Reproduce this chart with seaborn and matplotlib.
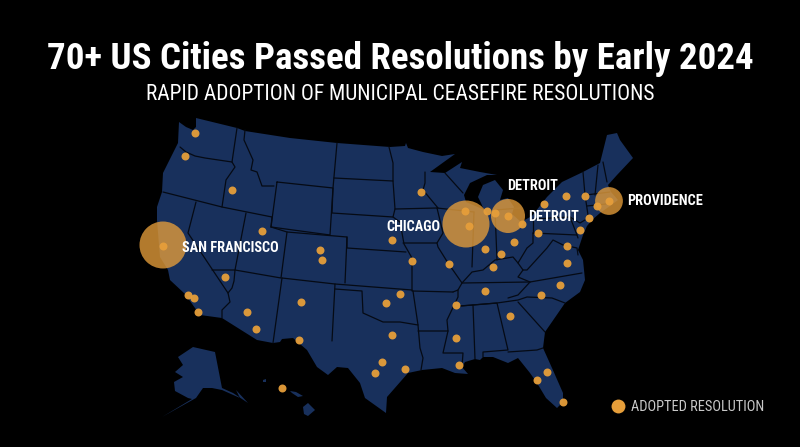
import matplotlib
matplotlib.use("Agg")
import matplotlib.pyplot as plt
import matplotlib.font_manager as fm
from matplotlib.lines import Line2D
import pandas as pd
import seaborn as sns

# map geometry (x right, y down)
us_outline = [
    (179, 122), (186, 127), (193, 130), (196, 127), (196, 118), (237, 128), (245, 131), (290, 138), (337, 143),
    (390, 147), (405, 146), (406, 143), (408, 148), (423, 152), (442, 156), (455, 154), (430, 172), (445, 173),
    (462, 162), (460, 168), (480, 172), (497, 175), (487, 175), (470, 183), (464, 195), (466, 202), (473, 205),
    (480, 208), (484, 210), (481, 203), (478, 197), (483, 185), (495, 180), (503, 190), (500, 200), (508, 198),
    (514, 207), (512, 214), (521, 222), (532, 216), (547, 197), (562, 182), (583, 172), (600, 163), (607, 135),
    (617, 133), (620, 140), (633, 158), (617, 175), (608, 185), (611, 192), (618, 200), (610, 206), (600, 213),
    (592, 220), (587, 226), (583, 235), (578, 250), (583, 260), (585, 280), (580, 292), (565, 303), (545, 332),
    (543, 348), (552, 368), (563, 393), (563, 402), (557, 408), (546, 398), (537, 383), (530, 373), (518, 358),
    (508, 363), (493, 357), (483, 357), (480, 360), (475, 359), (465, 362), (462, 367), (468, 374), (455, 373),
    (442, 368), (422, 370), (408, 373), (387, 397), (386, 413), (365, 398), (360, 383), (348, 368), (337, 367),
    (328, 375), (317, 367), (307, 350), (293, 338), (282, 339), (280, 342), (273, 343), (257, 340), (222, 318),
    (200, 315), (185, 294), (170, 280), (168, 270), (160, 257), (157, 220), (157, 207), (162, 192), (163, 173),
    (178, 143),
]
alaska = [
    (193, 347), (215, 352), (222, 388), (233, 393), (248, 403), (236, 390), (240, 398), (222, 390), (212, 388),
    (203, 388), (196, 398), (162, 417), (192, 399), (188, 398), (175, 391), (174, 382), (183, 377), (175, 372),
    (183, 365), (178, 357),
]
hawaii_big = [(303, 407), (308, 403), (315, 410), (308, 416), (304, 414)]
hawaii_maui = [(290, 391), (296, 392), (303, 396), (298, 397), (292, 393)]
oahu = [(263, 380), (266, 379), (266, 382), (263, 382)]

state_lines = [
    [(180, 147), (186, 152), (195, 156), (205, 158), (232, 162)],
    [(237, 128), (232, 162), (235, 167), (226, 180), (222, 207)],
    [(163, 192), (222, 207), (272, 217)],
    [(245, 130), (244, 140), (253, 160), (251, 170), (257, 172), (262, 186), (274, 186)],
    [(277, 182), (333, 188), (330, 235), (271, 227), (277, 182)],
    [(272, 217), (271, 227)],
    [(246, 213), (235, 270), (281, 278), (287, 232)],
    [(271, 227), (287, 232), (347, 237), (345, 283)],
    [(337, 143), (333, 188), (332, 213), (393, 217), (400, 222), (404, 244), (412, 258), (412, 291), (453, 292)],
    [(334, 178), (393, 181)],
    [(389, 147), (393, 163), (393, 181), (395, 209), (393, 217)],
    [(395, 209), (437, 208), (443, 233), (437, 243), (403, 243)],
    [(347, 237), (347, 248), (406, 252)],
    [(196, 202), (188, 233), (228, 293), (230, 302), (222, 310), (222, 318)],
    [(212, 270), (235, 270), (234, 281), (232, 288), (228, 293)],
    [(282, 278), (273, 343)],
    [(282, 278), (335, 284), (332, 341)],
    [(335, 284), (412, 290)],
    [(335, 289), (362, 291), (363, 313), (383, 322), (400, 322), (418, 325), (413, 291)],
    [(418, 325), (420, 348), (423, 358), (421, 370)],
    [(418, 331), (448, 331), (447, 320), (458, 297), (458, 290), (453, 292)],
    [(448, 331), (443, 353), (463, 353), (462, 367)],
    [(460, 306), (473, 305), (475, 359)],
    [(473, 305), (497, 303), (508, 350), (483, 352), (483, 357)],
    [(508, 352), (537, 350), (543, 348)],
    [(518, 302), (545, 332)],
    [(460, 306), (497, 303), (518, 300), (527, 297), (552, 298), (565, 303)],
    [(458, 290), (462, 283), (530, 282), (582, 273)],
    [(530, 282), (518, 295), (508, 298)],
    [(437, 243), (438, 247), (448, 263), (462, 283), (472, 272), (483, 270), (495, 260), (513, 257), (518, 263),
     (527, 248), (533, 243), (533, 233)],
    [(518, 263), (523, 270), (518, 277), (530, 282)],
    [(523, 270), (527, 270), (547, 248), (553, 240), (563, 245), (577, 248), (578, 255)],
    [(533, 233), (577, 235)],
    [(533, 220), (533, 233)],
    [(533, 219), (570, 217), (580, 223), (585, 220)],
    [(570, 217), (577, 235), (578, 238)],
    [(583, 172), (585, 195), (588, 215)],
    [(598, 165), (595, 195)],
    [(603, 162), (607, 182)],
    [(586, 195), (610, 192)],
    [(587, 206), (606, 204)],
    [(425, 172), (425, 183), (423, 190), (438, 208)],
    [(445, 173), (463, 193)],
    [(437, 208), (474, 212)],
    [(474, 212), (472, 267)],
    [(495, 210), (497, 260)],
    [(495, 210), (520, 208)],
]

# cities
dot_x = [195, 185, 232, 262, 320, 322, 392, 163, 225, 188, 194, 198, 247, 256, 301, 299, 386, 400, 392, 382, 375,
         282, 456, 456, 459, 405, 485, 510, 541, 560, 547, 537, 563, 421, 465, 469, 487, 495, 508, 522, 412, 449,
         485, 501, 493, 514, 538, 544, 566, 585, 589, 580, 567, 567, 597, 609]
dot_y = [133, 156, 190, 231, 250, 260, 240, 246, 277, 295, 298, 312, 312, 329, 302, 340, 303, 294, 335, 362, 373,
         388, 305, 338, 365, 369, 291, 316, 295, 285, 372, 380, 402, 192, 211, 226, 211, 213, 216, 224, 261, 264,
         249, 254, 267, 242, 233, 204, 196, 196, 218, 230, 246, 263, 206, 201]
big_x = [163, 466, 508, 609]
big_y = [245, 224, 216, 201]
big_size = [1145, 1145, 600, 400]
label_names = ["SAN FRANCISCO", "CHICAGO", "DETROIT", "DETROIT", "PROVIDENCE"]
label_x = [182, 440, 507, 528, 627]
label_y = [248, 227, 186, 217, 201]
label_ha = ["left", "right", "left", "left", "left"]

NAVY = "#18305c"
AMBER = "#e69e3a"

installed = {f.name for f in fm.fontManager.ttflist}
narrow = "Roboto Condensed" if "Roboto Condensed" in installed else "Roboto"

sns.set_theme(style="white")
plt.rcParams["font.family"] = [narrow, "Roboto", "DejaVu Sans"]

fig = plt.figure(figsize=(8, 4.47), dpi=100, facecolor="black")
ax = fig.add_axes([0, 0, 1, 1])
ax.set_facecolor("black")

for shape in [us_outline, alaska, hawaii_big, hawaii_maui, oahu]:
    ax.fill(*zip(*shape), color=NAVY, lw=0, zorder=1)
for line in state_lines:
    ax.plot(*zip(*line), color="#050a14", lw=0.9, zorder=2, solid_joinstyle="round")

big = pd.DataFrame({"x": big_x, "y": big_y, "size": big_size})
dots = pd.DataFrame({"x": dot_x, "y": dot_y})
sns.scatterplot(data=big, x="x", y="y", size="size", sizes=(min(big_size), max(big_size)), legend=False,
                color=AMBER, alpha=0.78, linewidth=0, ax=ax, zorder=3)
sns.scatterplot(data=dots, x="x", y="y", s=33, color=AMBER, alpha=0.95, linewidth=0, ax=ax, zorder=4)
ax.set_xlim(0, 800)
ax.set_ylim(447, 0)
ax.axis("off")

for name, x, y, ha in zip(label_names, label_x, label_y, label_ha):
    ax.text(x, y, name, color="white", fontsize=10.3, fontweight="bold", ha=ha, va="center", zorder=5)

ax.text(400, 59, "70+ US Cities Passed Resolutions by Early 2024", color="white", fontsize=26.6,
        fontweight="bold", ha="center", va="center")
ax.text(400, 95, "RAPID ADOPTION OF MUNICIPAL CEASEFIRE RESOLUTIONS", color="white", fontsize=15.5,
        ha="center", va="center")

handle = Line2D([], [], marker="o", ls="", color=AMBER, markersize=10, markeredgewidth=0)
leg = ax.legend([handle], ["ADOPTED RESOLUTION"], loc="center right", bbox_to_anchor=(0.972, 0.09), frameon=False,
                fontsize=10.4, handletextpad=-0.1)
leg.get_texts()[0].set_color("#c9c9c9")

fig.savefig("out.png", dpi=100, facecolor="black")
